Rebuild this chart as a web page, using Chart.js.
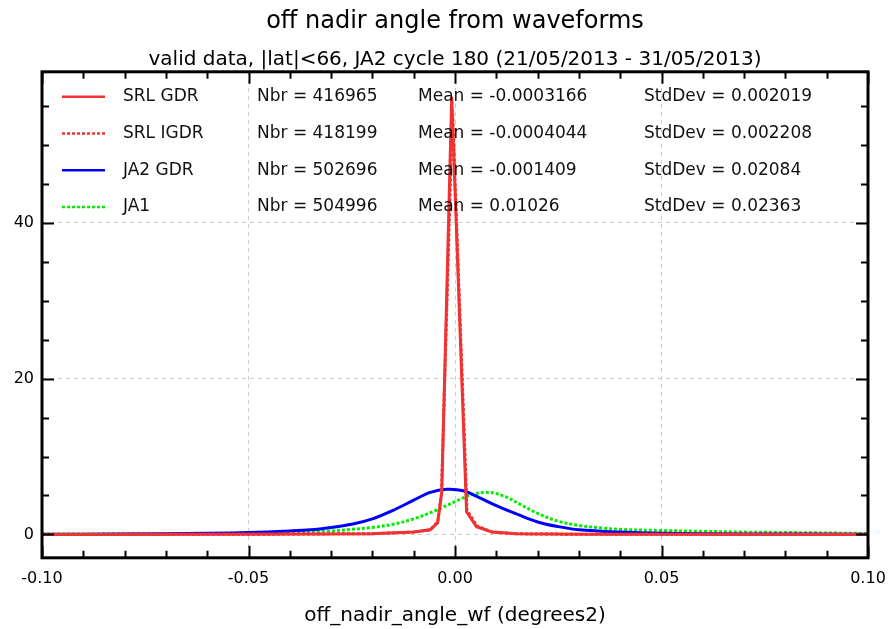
<!DOCTYPE html>
<html>
<head>
<meta charset="utf-8">
<script src="https://cdn.jsdelivr.net/npm/chart.js@4.4.1/dist/chart.umd.min.js"></script>
<style>
  html, body { margin: 0; padding: 0; background: #fff; }
  #wrap { width: 892px; height: 629px; }
</style>
</head>
<body>
<div id="wrap"><canvas id="myChart" width="892" height="629"></canvas></div>
<script>
// series labels and stats shown in the legend box
let seriesNames = ['SRL GDR', 'SRL IGDR', 'JA2 GDR', 'JA1'];
let seriesNbr = ['416965', '418199', '502696', '504996'];
let seriesMean = ['-0.0003166', '-0.0004044', '-0.001409', '0.01026'];
let seriesStd = ['0.002019', '0.002208', '0.02084', '0.02363'];

// histogram curves
let srlGdrX = [-0.1, -0.05, -0.02, -0.01, -0.006, -0.0042, -0.0032, -0.0008, 0.0028, 0.0052, 0.009, 0.015, 0.03, 0.1];
let srlGdrY = [0, 0.02, 0.1, 0.3, 0.6, 1.5, 5.5, 56.2, 2.9, 1.0, 0.3, 0.08, 0.02, 0];

let srlIgdrX = [-0.1, -0.05, -0.02, -0.01, -0.006, -0.0042, -0.0033, -0.0006, 0.0029, 0.0053, 0.009, 0.015, 0.03, 0.1];
let srlIgdrY = [0, 0.02, 0.1, 0.3, 0.6, 1.6, 5.0, 54.5, 3.1, 1.1, 0.3, 0.08, 0.02, 0];

let ja2GdrX = [-0.1, -0.08, -0.06, -0.05, -0.04, -0.035, -0.03, -0.025, -0.02, -0.015, -0.01, -0.006, -0.002, 0.002, 0.006, 0.01, 0.015, 0.02, 0.025, 0.03, 0.04, 0.05, 0.07, 0.1];
let ja2GdrY = [0.02, 0.05, 0.15, 0.25, 0.45, 0.6, 0.9, 1.3, 2.0, 3.1, 4.4, 5.4, 5.8, 5.6, 4.7, 3.7, 2.6, 1.6, 1.0, 0.6, 0.3, 0.15, 0.07, 0.03];

let ja1X = [-0.1, -0.08, -0.06, -0.05, -0.04, -0.03, -0.025, -0.02, -0.015, -0.01, -0.005, 0, 0.004, 0.008, 0.012, 0.016, 0.02, 0.025, 0.03, 0.035, 0.04, 0.05, 0.06, 0.07, 0.08, 0.1];
let ja1Y = [0.05, 0.08, 0.1, 0.15, 0.25, 0.45, 0.65, 0.9, 1.3, 2.0, 3.0, 4.2, 5.1, 5.4, 4.9, 3.8, 2.7, 1.7, 1.15, 0.85, 0.65, 0.5, 0.4, 0.3, 0.25, 0.12];

let xTickLabels = ['-0.10', '-0.05', '0.00', '0.05', '0.10'];
let yTickLabels = ['0', '20', '40'];

function toPoints(xs, ys) {
  let pts = [];
  for (let i = 0; i < xs.length; i++) {
    pts.push({ x: xs[i], y: ys[i] });
  }
  return pts;
}

const RED = 'rgb(240,50,50)';
const FONT = "'DejaVu Sans', sans-serif";

// frame, inward ticks and the stats legend
const framePlugin = {
  id: 'frame',
  afterDraw(chart) {
    const c = chart.ctx;
    const a = chart.chartArea;
    const xs = chart.scales.x;
    const ys = chart.scales.y;
    c.save();
    c.strokeStyle = '#000';
    c.lineWidth = 2;
    for (let i = -10; i <= 10; i++) {
      let px = Math.round(xs.getPixelForValue(i / 100)) + 0.5;
      let len = (i % 5 === 0) ? 12 : 7;
      c.beginPath();
      c.moveTo(px, a.bottom); c.lineTo(px, a.bottom - len);
      c.moveTo(px, a.top); c.lineTo(px, a.top + len);
      c.stroke();
    }
    for (let v = 0; v <= 55; v += 5) {
      let py = Math.round(ys.getPixelForValue(v)) + 0.5;
      let len = (v % 20 === 0) ? 12 : 7;
      c.beginPath();
      c.moveTo(a.left, py); c.lineTo(a.left + len, py);
      c.moveTo(a.right, py); c.lineTo(a.right - len, py);
      c.stroke();
    }
    c.lineWidth = 3;
    c.strokeRect(a.left, a.top, a.right - a.left, a.bottom - a.top);

    // legend box
    c.font = '17px ' + FONT;
    c.textBaseline = 'middle';
    c.fillStyle = '#111';
    chart.data.datasets.forEach((ds, i) => {
      let y = a.top + 25 + i * 36.7;
      c.strokeStyle = ds.borderColor;
      c.lineWidth = 2.5;
      c.setLineDash(ds.borderDash || []);
      c.beginPath();
      c.moveTo(a.left + 20, y); c.lineTo(a.left + 63, y);
      c.stroke();
      c.setLineDash([]);
      c.fillText(seriesNames[i], a.left + 81, y);
      c.fillText('Nbr = ' + seriesNbr[i], a.left + 215, y);
      c.fillText('Mean = ' + seriesMean[i], a.left + 376, y);
      c.fillText('StdDev = ' + seriesStd[i], a.left + 602, y);
    });
    c.restore();
  }
};

new Chart(document.getElementById('myChart'), {
  type: 'scatter',
  data: {
    datasets: [
      { label: seriesNames[0], data: toPoints(srlGdrX, srlGdrY), borderColor: RED, borderWidth: 3, tension: 0 },
      { label: seriesNames[1], data: toPoints(srlIgdrX, srlIgdrY), borderColor: RED, borderWidth: 3, borderDash: [3, 2], tension: 0 },
      { label: seriesNames[2], data: toPoints(ja2GdrX, ja2GdrY), borderColor: '#0000ff', borderWidth: 3, tension: 0.35 },
      { label: seriesNames[3], data: toPoints(ja1X, ja1Y), borderColor: '#00ee00', borderWidth: 3, borderDash: [3, 2], tension: 0.35 }
    ]
  },
  options: {
    responsive: false,
    animation: false,
    showLine: true,
    elements: { point: { radius: 0 } },
    layout: { padding: { top: 7, right: 24, bottom: 0, left: 0 } },
    plugins: {
      legend: { display: false },
      tooltip: { enabled: false },
      title: {
        display: true,
        fullSize: false,
        text: 'off nadir angle from waveforms',
        color: '#000',
        font: { family: FONT, size: 24, weight: 'normal' },
        padding: { top: 0, bottom: 12 }
      },
      subtitle: {
        display: true,
        fullSize: false,
        text: 'valid data, |lat|<66, JA2 cycle 180 (21/05/2013 - 31/05/2013)',
        color: '#000',
        font: { family: FONT, size: 20, weight: 'normal' },
        padding: { top: 0, bottom: 0 }
      }
    },
    scales: {
      x: {
        type: 'linear',
        min: -0.1,
        max: 0.1,
        border: { display: false, dash: [4, 4] },
        grid: { color: '#cccccc', drawTicks: false, lineWidth: 1 },
        ticks: {
          stepSize: 0.05,
          padding: 11,
          color: '#000',
          font: { family: FONT, size: 16 },
          callback: (v) => {
            let idx = Math.round((v + 0.1) / 0.05);
            return xTickLabels[idx];
          }
        },
        title: {
          display: true,
          text: 'off_nadir_angle_wf (degrees2)',
          color: '#000',
          font: { family: FONT, size: 20 },
          padding: { top: 5, bottom: 1 }
        },
        afterFit: (scale) => { scale.paddingLeft = 0; scale.paddingRight = 0; }
      },
      y: {
        min: -3.0,
        max: 59.4,
        border: { display: false, dash: [4, 4] },
        grid: { color: '#cccccc', drawTicks: false, lineWidth: 1 },
        ticks: {
          stepSize: 20,
          includeBounds: false,
          padding: 8,
          color: '#000',
          font: { family: FONT, size: 16 },
          callback: (v) => yTickLabels[Math.round(v / 20)]
        },
        afterFit: (scale) => { scale.width = 42; }
      }
    }
  },
  plugins: [framePlugin]
});
</script>
</body>
</html>
